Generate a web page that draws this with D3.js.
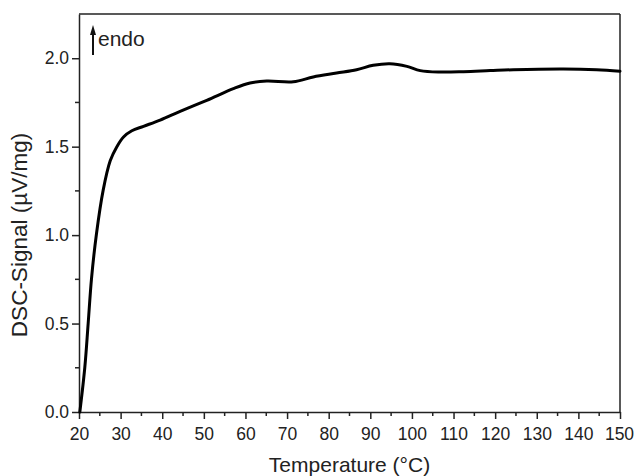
<!DOCTYPE html>
<html>
<head>
<meta charset="utf-8">
<script src="https://cdn.jsdelivr.net/npm/d3@7"></script>
<style>
  html, body { margin: 0; padding: 0; background: #fff; }
  svg { display: block; font-family: "Liberation Sans", Arial, Helvetica, sans-serif; }
</style>
</head>
<body>
<svg id="chart" width="634" height="476"></svg>
<script>
// Data
const temperature = [20.2, 21.4, 22.2, 23.0, 24.2, 25.8, 27.5, 29.1, 30.7, 32.7, 35.5, 39.5, 44.3, 50.7, 57.1, 61.1, 65.1, 71.5, 76.3, 81.9, 86.7, 90.7, 94.7, 98.8, 102, 106.8, 112.4, 118.8, 124.4, 136.4, 144.4, 150];
const dscSignal   = [0, 0.253, 0.50, 0.753, 1.008, 1.253, 1.42, 1.50, 1.555, 1.59, 1.615, 1.65, 1.70, 1.762, 1.828, 1.86, 1.871, 1.867, 1.894, 1.916, 1.935, 1.96, 1.969, 1.954, 1.93, 1.922, 1.924, 1.93, 1.935, 1.939, 1.935, 1.927];
const xTicks = [20, 30, 40, 50, 60, 70, 80, 90, 100, 110, 120, 130, 140, 150];
const yTicks = [0.0, 0.5, 1.0, 1.5, 2.0];
const xDomain = [20, 150];
const yDomain = [0, 2.25];
const xTitle = "Temperature (°C)";
const yTitle = "DSC-Signal (µV/mg)";
const annotation = "endo";

const W = 634, H = 476;
const m = { left: 79, right: 14, top: 14, bottom: 64 };
const iw = W - m.left - m.right, ih = H - m.top - m.bottom;
const axisColor = "#222";

const svg = d3.select("#chart");
const g = svg.append("g").attr("transform", `translate(${m.left},${m.top})`);

const x = d3.scaleLinear().domain(xDomain).range([0, iw]);
const y = d3.scaleLinear().domain(yDomain).range([ih, 0]);

// minor ticks
const xMinor = d3.range(xDomain[0] + 5, xDomain[1], 10);
const yMinor = d3.range(0.25, yDomain[1], 0.5);

// Frame (top & right)
g.append("line").attr("x1", 0).attr("x2", iw).attr("y1", 0).attr("y2", 0)
  .attr("stroke", axisColor).attr("stroke-width", 1.5);
g.append("line").attr("x1", iw).attr("x2", iw).attr("y1", 0).attr("y2", ih)
  .attr("stroke", axisColor).attr("stroke-width", 1.5);

// X axis
const xAxis = g.append("g").attr("transform", `translate(0,${ih})`)
  .call(d3.axisBottom(x).tickValues(xTicks).tickFormat(d3.format("d")).tickSize(7).tickSizeOuter(0));
xAxis.append("g").selectAll("line").data(xMinor).join("line")
  .attr("x1", d => x(d)).attr("x2", d => x(d)).attr("y1", 0).attr("y2", 4)
  .attr("stroke", axisColor).attr("stroke-width", 1.5);

// Y axis
const yAxis = g.append("g")
  .call(d3.axisLeft(y).tickValues(yTicks).tickFormat(d3.format(".1f")).tickSize(7).tickSizeOuter(0));
yAxis.append("g").selectAll("line").data(yMinor).join("line")
  .attr("x1", 0).attr("x2", -4).attr("y1", d => y(d)).attr("y2", d => y(d))
  .attr("stroke", axisColor).attr("stroke-width", 1.5);

[xAxis, yAxis].forEach(a => {
  a.select(".domain").attr("stroke", axisColor).attr("stroke-width", 1.5);
  a.selectAll(".tick line").attr("stroke", axisColor).attr("stroke-width", 1.5);
  a.selectAll(".tick text").attr("fill", "#222").style("font-size", "17.5px")
    .style("font-family", "'Liberation Sans', Arial, sans-serif");
});
xAxis.selectAll(".tick text").attr("dy", "0").attr("y", 28);
// keep the last label inside the picture
xAxis.selectAll(".tick text").filter(d => d === xDomain[1]).attr("x", -1);
yAxis.selectAll(".tick text").attr("x", -10);

// Curve
const line = d3.line()
  .x((d, i) => x(temperature[i]))
  .y(d => y(d))
  .curve(d3.curveCatmullRom.alpha(0.5));
g.append("path").datum(dscSignal)
  .attr("d", line)
  .attr("fill", "none")
  .attr("stroke", "#000")
  .attr("stroke-width", 3)
  .attr("stroke-linejoin", "round")
  .attr("stroke-linecap", "round");

// Axis titles
svg.append("text")
  .attr("x", m.left + iw / 2).attr("y", 472)
  .attr("text-anchor", "middle").attr("fill", "#222")
  .style("font-size", "21px").text(xTitle);
svg.append("text")
  .attr("transform", `translate(27,${235}) rotate(-90)`)
  .attr("text-anchor", "middle").attr("fill", "#222")
  .style("font-size", "22.5px").text(yTitle);

// endo arrow annotation
const ax = 14, ayTop = 11, ayBot = 41;
g.append("line").attr("x1", ax).attr("x2", ax).attr("y1", ayTop + 6).attr("y2", ayBot)
  .attr("stroke", "#111").attr("stroke-width", 2);
g.append("path")
  .attr("d", `M${ax},${ayTop} L${ax - 3},${ayTop + 10} L${ax + 3},${ayTop + 10} Z`)
  .attr("fill", "#111");
g.append("text").attr("x", 19).attr("y", 32)
  .attr("fill", "#222").style("font-size", "21px").text(annotation);
</script>
</body>
</html>
